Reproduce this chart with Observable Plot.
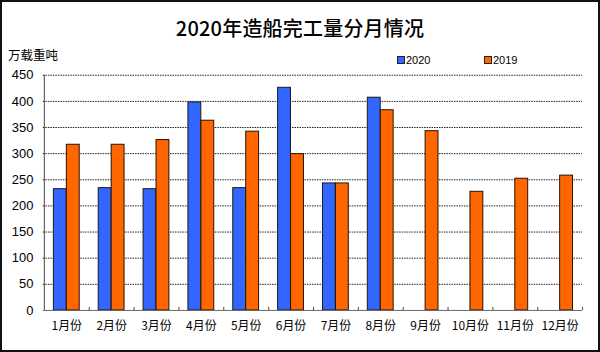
<!DOCTYPE html>
<html>
<head>
<meta charset="utf-8">
<script src="https://cdn.jsdelivr.net/npm/d3@7"></script>
<script src="https://cdn.jsdelivr.net/npm/@observablehq/plot@0.6"></script>
<style>
  html, body { margin: 0; padding: 0; background: #fff; }
  #wrap { position: relative; width: 600px; height: 352px; box-sizing: border-box; border: 2px solid #111; overflow: hidden; font-family: "Noto Sans CJK SC", "Liberation Sans", sans-serif; }
  #title { position: absolute; left: 0; right: 0; top: 11px; text-align: center; font-size: 20px; font-weight: 500; color: #000; letter-spacing: 0.2px; }
  #unit { position: absolute; left: 6px; top: 43px; font-size: 12.5px; color: #000; }
  .leg { position: absolute; top: 52px; font-size: 11px; font-family: "Liberation Sans", Arial, sans-serif; color: #000; display: flex; align-items: center; }
  .sw { width: 6px; height: 6px; border: 1px solid #222; margin-right: 1px; }
  #chart { position: absolute; left: -2px; top: -2px; }
</style>
</head>
<body>
<div id="wrap">
  <div id="chart"></div>
  <div id="title">2020年造船完工量分月情况</div>
  <div id="unit">万载重吨</div>
  <div id="legend"></div>
</div>
<script>
const months = ["1月份","2月份","3月份","4月份","5月份","6月份","7月份","8月份","9月份","10月份","11月份","12月份"];
const series = ["2020", "2019"];
const values2020 = [232, 234, 232, 398, 234, 426, 243, 407];
const values2019 = [317, 317, 326, 363, 342, 299, 243, 383, 343, 227, 252, 258];
const colors = ["#3366ff", "#ff6600"];
const yTicks = [0, 50, 100, 150, 200, 250, 300, 350, 400, 450];

const rows2020 = values2020.map((v, i) => ({month: months[i], series: series[0], value: v}));
const rows2019 = values2019.map((v, i) => ({month: months[i], series: series[1], value: v}));

const W = 600, H = 352, mL = 43, mR = 16, mT = 75, mB = 41;
const bw = (W - mL - mR) / months.length;
const barW = 13;
const plotH = H - mT - mB;

const chart = Plot.plot({
  width: W, height: H,
  marginLeft: mL, marginRight: mR, marginTop: mT, marginBottom: mB,
  style: {fontFamily: "'Liberation Sans', Arial, sans-serif", fontSize: "12px", color: "#000", background: "transparent", overflow: "visible"},
  x: {domain: months, padding: 0, label: null},
  y: {domain: [0, 450], label: null},
  marks: [
    Plot.ruleY(yTicks.filter(d => d > 0), {stroke: "#222", strokeDasharray: "1.5,1", strokeWidth: 1}),
    Plot.barY(rows2020, {x: "month", y: "value", fill: colors[0], stroke: "#1a1a1a", strokeWidth: 1, insetLeft: bw / 2 - barW, insetRight: bw / 2}),
    Plot.barY(rows2019, {x: "month", y: "value", fill: colors[1], stroke: "#2a1000", strokeWidth: 1, insetLeft: bw / 2, insetRight: bw / 2 - barW}),
    Plot.ruleY([0], {stroke: "#666", strokeWidth: 1}),
    Plot.ruleX([months[0]], {dx: -bw / 2, stroke: "#444", strokeWidth: 1}),
    Plot.ruleX(months, {dx: bw / 2, insetTop: plotH - 3, stroke: "#444"}),
    Plot.axisY({ticks: yTicks, tickSize: 0, tickPadding: 10, fontSize: 13, label: null}),
    Plot.axisX({tickSize: 0, tickPadding: 11, fontFamily: "'Noto Sans CJK SC', sans-serif", fontSize: 12, label: null})
  ]
});
document.getElementById("chart").appendChild(chart);

const legend = document.getElementById("legend");
const legLeft = [395, 482];
series.forEach((s, i) => {
  const d = document.createElement("div");
  d.className = "leg";
  d.style.left = legLeft[i] + "px";
  const sw = document.createElement("span");
  sw.className = "sw";
  sw.style.background = colors[i];
  const t = document.createElement("span");
  t.textContent = s;
  d.appendChild(sw); d.appendChild(t);
  legend.appendChild(d);
});
</script>
</body>
</html>
